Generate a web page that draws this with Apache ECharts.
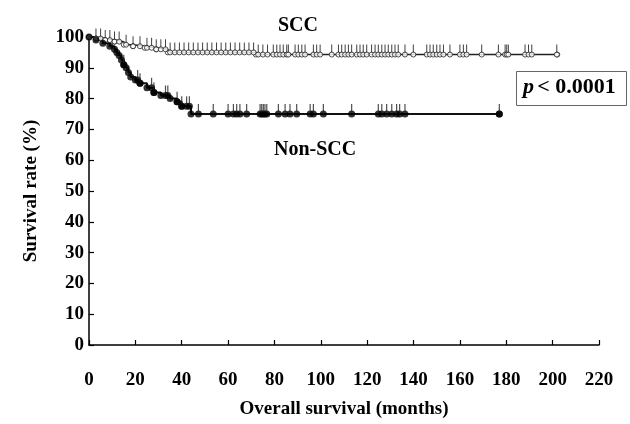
<!DOCTYPE html>
<html>
<head>
<meta charset="utf-8">
<script src="https://cdn.jsdelivr.net/npm/echarts@6/dist/echarts.min.js"></script>
<style>
html, body { margin: 0; padding: 0; background: #fff; }
#chart { width: 630px; height: 424px; }
</style>
</head>
<body>
<div id="chart"></div>
<script>
// Kaplan-Meier steps: [month, survival %]
var sccSteps = [[0, 100], [3, 99.5], [7, 99], [11, 98.5], [15, 97.5], [19, 97], [24, 96.5], [29, 96], [34, 95], [72, 94.3], [202, 94.3]];
var nonSccSteps = [[0, 100], [3, 99], [6, 98], [9, 97], [11, 96], [12, 95], [13, 94], [14, 92.5], [15, 91], [16, 90], [17, 88.5], [18, 87],
    [20, 86], [22, 85], [25, 83.5], [28, 82], [31, 81], [35, 80], [38, 79], [40, 77.5], [44, 75], [177, 75]];

// censored observations (months)
var sccCensor = [3, 5, 7, 9, 11, 13, 16, 19, 22, 25, 27, 29, 31, 33, 35, 37, 39, 41, 43, 45, 47, 49, 51, 53, 55, 57, 59, 61, 63, 65, 67, 69, 71, 73, 75, 77,
    79.5, 81, 82.4, 83.8, 85.3, 86, 88.9, 90.3, 91.8, 93.2, 96.8, 98.2, 99.7, 104.7, 107.6, 109, 110.5, 111.9, 113.3, 115.5, 116.9, 118.3, 119.8,
    121.9, 123.4, 124.8, 126.3, 127.7, 129.1, 130.6, 132, 133.4, 136.3, 139.9, 145.7, 147.1, 148.5, 150, 151.4, 152.9, 155.7, 160, 161.5, 162.9,
    169.4, 176.6, 179.5, 180.2, 180.9, 188.1, 189.6, 191, 201.8];
var nonSccCensor = [15, 21, 22, 27, 28, 33, 34, 38, 40, 42.1, 43.3, 47.2, 53.6, 60, 62.3, 63.7, 65.1, 68, 73.8, 74.5, 75.2, 75.9, 76.7, 81.7, 84.6,
    86.7, 89.6, 95.4, 96.8, 101.1, 113.3, 124.8, 126.3, 128.4, 130.6, 132.7, 134, 136.3, 177];

var xTicks = [0, 20, 40, 60, 80, 100, 120, 140, 160, 180, 200, 220];
var yTicks = [0, 10, 20, 30, 40, 50, 60, 70, 80, 90, 100];

var FONT = '"Liberation Serif", "Times New Roman", serif';

function survivalAt(steps, t) {
    var v = steps[0][1];
    steps.forEach(function (s) {
        if (s[0] <= t) v = s[1];
    });
    return v;
}
function censorPoints(steps, times) {
    return times.map(function (t) { return [t, survivalAt(steps, t)]; });
}

var chart = echarts.init(document.getElementById('chart'));
chart.setOption({
    animation: false,
    grid: { left: 89, right: 31, top: 37, bottom: 74 },
    xAxis: {
        type: 'value', min: xTicks[0], max: xTicks[xTicks.length - 1], interval: 20,
        name: 'Overall survival (months)', nameLocation: 'middle', nameGap: 55,
        nameTextStyle: { fontFamily: FONT, fontWeight: 'bold', fontSize: 19, color: '#000' },
        axisLine: { lineStyle: { color: '#000', width: 1.5 } },
        axisTick: { inside: true, length: 5, lineStyle: { color: '#000', width: 1.2 } },
        axisLabel: { margin: 26, fontFamily: FONT, fontWeight: 'bold', fontSize: 19, color: '#000' },
        splitLine: { show: false }
    },
    yAxis: {
        type: 'value', min: yTicks[0], max: yTicks[yTicks.length - 1], interval: 10,
        name: 'Survival rate (%)', nameLocation: 'middle', nameGap: 48,
        nameTextStyle: { fontFamily: FONT, fontWeight: 'bold', fontSize: 19, color: '#000' },
        axisLine: { show: true, lineStyle: { color: '#000', width: 1.5 } },
        axisTick: { show: true, inside: true, length: 5, lineStyle: { color: '#000', width: 1.2 } },
        axisLabel: { margin: 5, fontFamily: FONT, fontWeight: 'bold', fontSize: 19, color: '#000' },
        splitLine: { show: false }
    },
    series: [
        {
            type: 'line', step: 'end', data: sccSteps, showSymbol: false,
            lineStyle: { color: '#222', width: 1.5 }, z: 2
        },
        {
            type: 'line', step: 'end', data: nonSccSteps, showSymbol: false,
            lineStyle: { color: '#111', width: 2 }, z: 2
        },
        {
            type: 'scatter', data: sccSteps.concat(censorPoints(sccSteps, sccCensor)), symbol: 'circle', symbolSize: 5,
            itemStyle: { color: '#fff', borderColor: '#222', borderWidth: 1 }, z: 3
        },
        {
            type: 'scatter', data: censorPoints(sccSteps, sccCensor), symbol: 'rect', symbolSize: [1, 8], symbolOffset: [0, -6],
            itemStyle: { color: '#111' }, z: 3
        },
        {
            type: 'scatter', data: nonSccSteps.concat(censorPoints(nonSccSteps, nonSccCensor)), symbol: 'circle', symbolSize: 7,
            itemStyle: { color: '#000' }, z: 4
        },
        {
            type: 'scatter', data: censorPoints(nonSccSteps, nonSccCensor), symbol: 'rect', symbolSize: [1.2, 8], symbolOffset: [0, -6],
            itemStyle: { color: '#222' }, z: 4
        }
    ],
    graphic: [
        {
            type: 'text', left: 278, top: 16,
            style: { text: 'SCC', font: 'bold 20px ' + FONT, fill: '#000' }
        },
        {
            type: 'text', left: 274, top: 140,
            style: { text: 'Non-SCC', font: 'bold 20px ' + FONT, fill: '#000' }
        },
        {
            type: 'rect', shape: { x: 516.5, y: 71.5, width: 110, height: 34 },
            style: { fill: '#fff', stroke: '#666', lineWidth: 1 }
        },
        {
            type: 'text', left: 523, top: 76,
            style: {
                text: '{i|p} {b|< 0.0001}',
                rich: {
                    i: { font: 'italic bold 22px ' + FONT, fill: '#000' },
                    b: { font: 'bold 22px ' + FONT, fill: '#000' }
                }
            }
        }
    ]
});
</script>
</body>
</html>
